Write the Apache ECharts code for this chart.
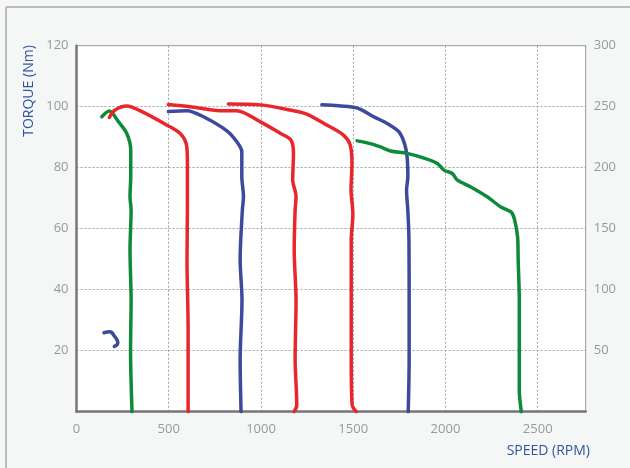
<!DOCTYPE html>
<html><head><meta charset="utf-8">
<script src="https://cdn.jsdelivr.net/npm/echarts@6/dist/echarts.min.js"></script>
<style>html,body{margin:0;padding:0;background:#f5f7f7}#c{width:630px;height:468px}</style>
</head><body><div id="c"></div>
<script>
// Speed (RPM) / Torque (Nm) pairs
var greenCurve1 = [[137,96.7],[178,98.6],[227,95.1],[272,91.3],[294,85.8],[294,77.1],[290,70.5],[296,66.1],[290,53],[296,36.6],[293,20],[301,0]];
var redCurve1 = [[178,96.5],[209,98.9],[272,100.2],[344,98.7],[489,94],[561,91.3],[594,88],[601,82.5],[601,66],[599,49.8],[605,26.8],[605,0]];
var redCurve2 = [[498,100.7],[616,100],[778,98.7],[869,98.7],[995,95.1],[1104,91.3],[1162,89.1],[1176,84.7],[1172,76],[1190,70.5],[1185,66.1],[1180,53],[1190,36.6],[1185,17],[1194,2.2],[1180,0]];
var blueCurve1 = [[498,98.4],[598,98.7],[688,96.7],[815,92.1],[869,88.5],[896,85.3],[896,77.1],[905,70.5],[899,66.1],[887,49.8],[897,36.6],[887,17],[892,0]];
var redCurve3 = [[823,100.9],[995,100.6],[1176,98.7],[1248,97.6],[1357,94],[1447,90.7],[1483,87.5],[1493,81.4],[1488,72.7],[1498,64.9],[1489,56.1],[1489,36.6],[1489,17],[1494,2.2],[1516,0]];
var blueCurve2 = [[1330,100.6],[1502,99.8],[1548,98.9],[1611,96.7],[1684,94.5],[1747,91.8],[1778,87.9],[1792,83.5],[1796,77],[1789,72.6],[1796,66],[1802,56.1],[1803,36.6],[1803,17],[1798,0]];
var greenCurve2 = [[1521,88.8],[1593,87.9],[1648,86.8],[1702,85.5],[1792,84.7],[1892,83],[1956,81.4],[1992,79.2],[2037,78.1],[2065,75.9],[2137,73.7],[2228,70.4],[2300,67.1],[2355,65.5],[2373,63.3],[2391,57.2],[2394,49.7],[2400,36.6],[2400,20.2],[2400,7.1],[2411,0]];
var blueHook = [[149,25.9],[180,26.2],[205,24.8],[224,22.6],[205,21.4]];
var speedTicks = [0,500,1000,1500,2000,2500];
var torqueTicks = [20,40,60,80,100,120];
var powerTicks = [50,100,150,200,250,300];

var RED = '#e8262b', BLUE = '#3b4a9c', GREEN = '#0d8a3a';
var FONT = '"Open Sans", "Noto Sans", sans-serif';
function ser(data, color, smooth){
  return {type:'line', data:data, symbol:'none', smooth: smooth===undefined?0.3:smooth,
    lineStyle:{color:color, width:3.5, cap:'round', join:'round'}, itemStyle:{color:color}, z:3};
}
var gridLine = {show:true, lineStyle:{color:'#a0a0a0', type:[2,2], width:1}};
var chart = echarts.init(document.getElementById('c'));
chart.setOption({
  animation:false,
  backgroundColor:'#f5f7f7',
  grid:{left:76.5, right:44.3, top:45.7, bottom:56.3, show:true, backgroundColor:'#ffffff', borderColor:'#a0a0a0', borderWidth:1},
  xAxis:{type:'value', min:0, max:2760, interval:500,
    axisLine:{show:true, lineStyle:{color:'#777', width:2.5}},
    axisTick:{show:false},
    axisLabel:{color:'#999', fontSize:13, fontFamily:FONT, margin:11, showMaxLabel:false,
      formatter:function(v){return speedTicks.indexOf(v)>=0?String(v):'';}},
    splitLine:gridLine
  },
  yAxis:[
    {type:'value', min:0, max:120, interval:20,
     axisLine:{show:true, lineStyle:{color:'#777', width:2.5}},
     axisTick:{show:false},
     axisLabel:{color:'#999', fontSize:13, fontFamily:FONT, margin:8, showMinLabel:false,
       formatter:function(v){return torqueTicks.indexOf(v)>=0?String(v):'';}},
     splitLine:gridLine
    },
    {type:'value', min:0, max:300, interval:50, position:'right',
     axisLine:{show:false}, axisTick:{show:false},
     axisLabel:{color:'#999', fontSize:13, fontFamily:FONT, margin:8, showMinLabel:false,
       formatter:function(v){return powerTicks.indexOf(v)>=0?String(v):'';}},
     splitLine:{show:false}
    }
  ],
  series:[
    ser(greenCurve1, GREEN), ser(redCurve1, RED), ser(redCurve2, RED), ser(blueCurve1, BLUE),
    ser(redCurve3, RED), ser(blueCurve2, BLUE), ser(greenCurve2, GREEN), ser(blueHook, BLUE, 0.5)
  ],
  graphic:[
    {type:'line', shape:{x1:6, y1:7, x2:6, y2:470}, style:{stroke:'#bcbcbc', lineWidth:2}, silent:true},
    {type:'line', shape:{x1:6, y1:7, x2:632, y2:7}, style:{stroke:'#bcbcbc', lineWidth:2}, silent:true},
    {type:'text', x:29, y:91, rotation:Math.PI/2,
     style:{text:'TORQUE (Nm)', fill:'#2f55a0', font:'14px '+FONT, textAlign:'center', textVerticalAlign:'middle'}},
    {type:'text', x:590, y:451,
     style:{text:'SPEED (RPM)', fill:'#2f55a0', font:'14px '+FONT, textAlign:'right', textVerticalAlign:'middle'}}
  ]
});
</script></body></html>
